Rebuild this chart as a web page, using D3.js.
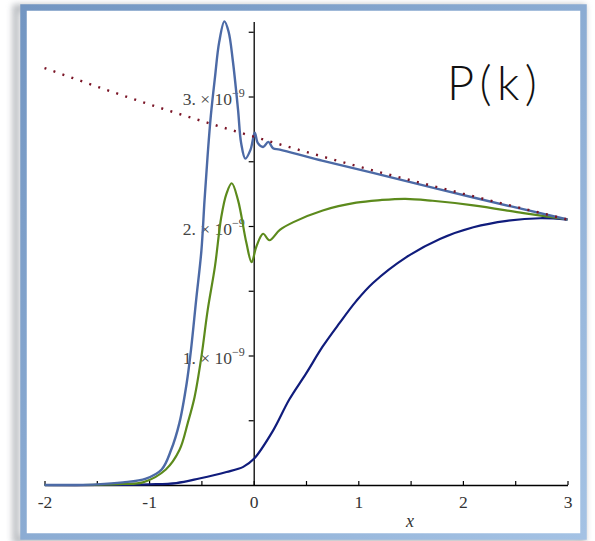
<!DOCTYPE html>
<html lang="en">
<head>
<meta charset="utf-8" />
<style>
  body { margin: 0; background: #fff; }
  svg { display: block; }
</style>
</head>
<body>
<div class="plot"></div>
<script src="https://cdn.jsdelivr.net/npm/d3@7"></script>
<script>
// values, y in units of 1e-9
let blueX = [-2, -1.5, -1.25, -1.03, -0.88, -0.79, -0.71, -0.64, -0.60, -0.55, -0.50, -0.47, -0.44, -0.41, -0.37, -0.33, -0.28, -0.24, -0.20, -0.15, -0.12, -0.08, -0.03, 0.01, 0.04, 0.09, 0.14, 0.185, 0.25, 0.63, 1.14, 2.10, 3.0];
let blueY = [0, 0.005, 0.02, 0.05, 0.12, 0.27, 0.48, 0.79, 1.04, 1.43, 1.81, 2.20, 2.55, 2.85, 3.15, 3.42, 3.58, 3.50, 3.28, 2.90, 2.64, 2.52, 2.59, 2.72, 2.64, 2.61, 2.65, 2.60, 2.59, 2.51, 2.41, 2.22, 2.05];

let greenX = [-2, -1.5, -1.25, -1.06, -0.84, -0.71, -0.63, -0.565, -0.50, -0.44, -0.37, -0.31, -0.26, -0.21, -0.15, -0.07, -0.02, 0.025, 0.09, 0.15, 0.25, 0.38, 0.66, 0.98, 1.21, 1.45, 1.71, 2.10, 2.58, 3.0];
let greenY = [0, 0.002, 0.008, 0.02, 0.12, 0.27, 0.48, 0.68, 0.99, 1.35, 1.69, 2.07, 2.25, 2.33, 2.20, 1.87, 1.72, 1.84, 1.94, 1.89, 1.97, 2.03, 2.12, 2.18, 2.20, 2.21, 2.195, 2.16, 2.10, 2.05];

let navyX = [-2, -1.5, -1.0, -0.74, -0.52, -0.26, -0.1, 0, 0.185, 0.34, 0.50, 0.66, 0.82, 0.98, 1.14, 1.46, 1.78, 2.10, 2.42, 2.74, 3.0];
let navyY = [0, 0, 0.005, 0.015, 0.05, 0.10, 0.14, 0.20, 0.42, 0.66, 0.86, 1.07, 1.25, 1.42, 1.56, 1.76, 1.90, 1.99, 2.04, 2.06, 2.05];

let dotX = [-2, -1, 0, 1, 2, 3];
let dotY = [3.22, 2.94, 2.69, 2.46, 2.25, 2.05];

let xTicks = [-2, -1.5, -1, -0.5, 0, 0.5, 1, 1.5, 2, 2.5, 3];
let xTickLabels = ["-2", "", "-1", "", "0", "", "1", "", "2", "", "3"];
let yTicks = [0.5, 1, 1.5, 2, 2.5, 3, 3.5];
let yTickLabels = {1: "1.", 2: "2.", 3: "3."};

let W = 595, H = 541;
let serif = "'Liberation Serif', 'Times New Roman', serif";

let svg = d3.select("div.plot").append("svg")
  .attr("width", W).attr("height", H);

let defs = svg.append("defs");
defs.append("filter").attr("id", "shadow")
  .attr("x", "-10%").attr("y", "-10%").attr("width", "120%").attr("height", "120%")
  .append("feGaussianBlur").attr("stdDeviation", 3);

let grad = defs.append("linearGradient").attr("id", "frameGrad")
  .attr("x1", "0").attr("y1", "0").attr("x2", "1").attr("y2", "1");
grad.append("stop").attr("offset", "0").attr("stop-color", "#7396c2");
grad.append("stop").attr("offset", "1").attr("stop-color", "#a4c2e4");

// frame with soft shadow
svg.append("rect")
  .attr("x", 16).attr("y", 8).attr("width", 566).attr("height", 532)
  .attr("fill", "none").attr("stroke", "#8a8f96").attr("stroke-width", 7)
  .attr("opacity", 0.6).attr("filter", "url(#shadow)");
svg.append("rect")
  .attr("x", 23.5).attr("y", 7.5).attr("width", 560).attr("height", 529)
  .attr("fill", "#fff").attr("stroke", "url(#frameGrad)").attr("stroke-width", 6.5);

let x = d3.scaleLinear().domain([-2, 3]).range([44.5, 567.5]);
let y = d3.scaleLinear().domain([0, 3.58]).range([485, 21.4]);

let xAxis = svg.append("g")
  .attr("transform", "translate(0," + y(0) + ")")
  .call(d3.axisBottom(x).tickValues(xTicks)
    .tickFormat((d, i) => xTickLabels[i])
    .tickSize(-4).tickSizeOuter(0).tickPadding(11));
xAxis.select(".domain").attr("stroke", "#000").attr("stroke-width", 1.3);
xAxis.selectAll(".tick line").attr("stroke", "#000").attr("stroke-width", 1.2);
xAxis.selectAll(".tick text")
  .attr("font-family", serif).attr("font-size", 17.5).attr("fill", "#333");

let yAxis = svg.append("g")
  .attr("transform", "translate(" + x(0) + ",0)")
  .call(d3.axisLeft(y).tickValues(yTicks).tickFormat("")
    .tickSize(5).tickSizeOuter(0));
yAxis.select(".domain").attr("stroke", "#000").attr("stroke-width", 1.3);
yAxis.selectAll(".tick line").attr("stroke", "#000").attr("stroke-width", 1.2);
yAxis.selectAll(".tick text").each(function(d) {
  let t = d3.select(this);
  if (!yTickLabels[d]) return;
  t.attr("x", -9).attr("dy", 8).attr("text-anchor", "end")
    .attr("font-family", serif).attr("font-size", 17.5).attr("fill", "#444");
  t.append("tspan").text(yTickLabels[d] + " \u00d7 10");
  t.append("tspan").attr("dy", -8).attr("font-size", 12).text("\u2212" + "9");
});

svg.append("text")
  .attr("x", 410).attr("y", 527)
  .attr("text-anchor", "middle")
  .attr("font-family", serif).attr("font-style", "italic")
  .attr("font-size", 18).attr("fill", "#333")
  .text("x");

function series(xs, ys) {
  return xs.map((v, i) => [v, ys[i]]);
}

let line = d3.line()
  .x(d => x(d[0])).y(d => y(d[1]))
  .curve(d3.curveCatmullRom.alpha(0.5));

svg.append("path").datum(series(navyX, navyY))
  .attr("d", line).attr("fill", "none")
  .attr("stroke", "#101c7c").attr("stroke-width", 2.2);

svg.append("path").datum(series(greenX, greenY))
  .attr("d", line).attr("fill", "none")
  .attr("stroke", "#5c8a1c").attr("stroke-width", 2.2);

svg.append("path").datum(series(blueX, blueY))
  .attr("d", line).attr("fill", "none")
  .attr("stroke", "#4c6aa6").attr("stroke-width", 2.4);

svg.append("path").datum(series(dotX, dotY))
  .attr("d", line.curve(d3.curveMonotoneX)).attr("fill", "none")
  .attr("stroke", "#7a1426").attr("stroke-width", 2.4)
  .attr("stroke-dasharray", "2,7.5");

svg.append("text")
  .attr("x", 447).attr("y", 100)
  .attr("font-family", "Lato, 'Open Sans', sans-serif")
  .attr("font-weight", 300)
  .attr("font-size", 47).attr("fill", "#111")
  .attr("textLength", 90).attr("lengthAdjust", "spacing")
  .text("P(k)");
</script>
</body>
</html>
